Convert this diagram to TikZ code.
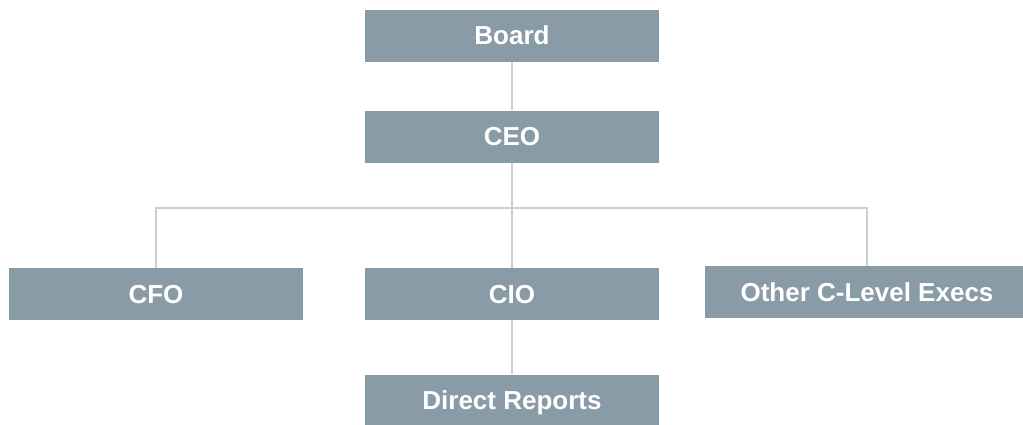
\documentclass[tikz,border=0pt]{standalone}
\usepackage{fontspec}
\setmainfont{Liberation Sans}
\definecolor{boxfill}{HTML}{8A9BA8}
\definecolor{linkcol}{HTML}{C8D0D7}
\begin{document}
\begin{tikzpicture}[x=1pt,y=-1pt,
  orgbox/.style={fill=boxfill, draw=none, minimum height=52pt, inner sep=0pt,
    text height=18.6pt, text depth=0pt,
    text=white, font=\fontsize{26}{30}\selectfont\bfseries},
  link/.style={draw=linkcol, line width=2.5pt}]
  \useasboundingbox (0,0) rectangle (1023,424);
  \node[orgbox, minimum width=294pt] (board) at (512,35.5) {Board};
  \node[orgbox, minimum width=294pt] (ceo) at (512,136.5) {CEO};
  \node[orgbox, minimum width=294pt] (cfo) at (156,294) {CFO};
  \node[orgbox, minimum width=294pt] (cio) at (512,294) {CIO};
  \node[orgbox, minimum width=324pt] (other) at (867,292) {Other C-Level Execs};
  \node[orgbox, minimum width=294pt] (direct) at (512,400.5) {Direct Reports};
  \coordinate (bus) at (512,208);
  \draw[link] (board.south) -- (ceo.north);
  \draw[link] (ceo.south) -- (cio.north);
  \draw[link] (cfo.north) |- (bus) -| (other.north);
  \draw[link] (cio.south) -- (direct.north);
\end{tikzpicture}
\end{document}
